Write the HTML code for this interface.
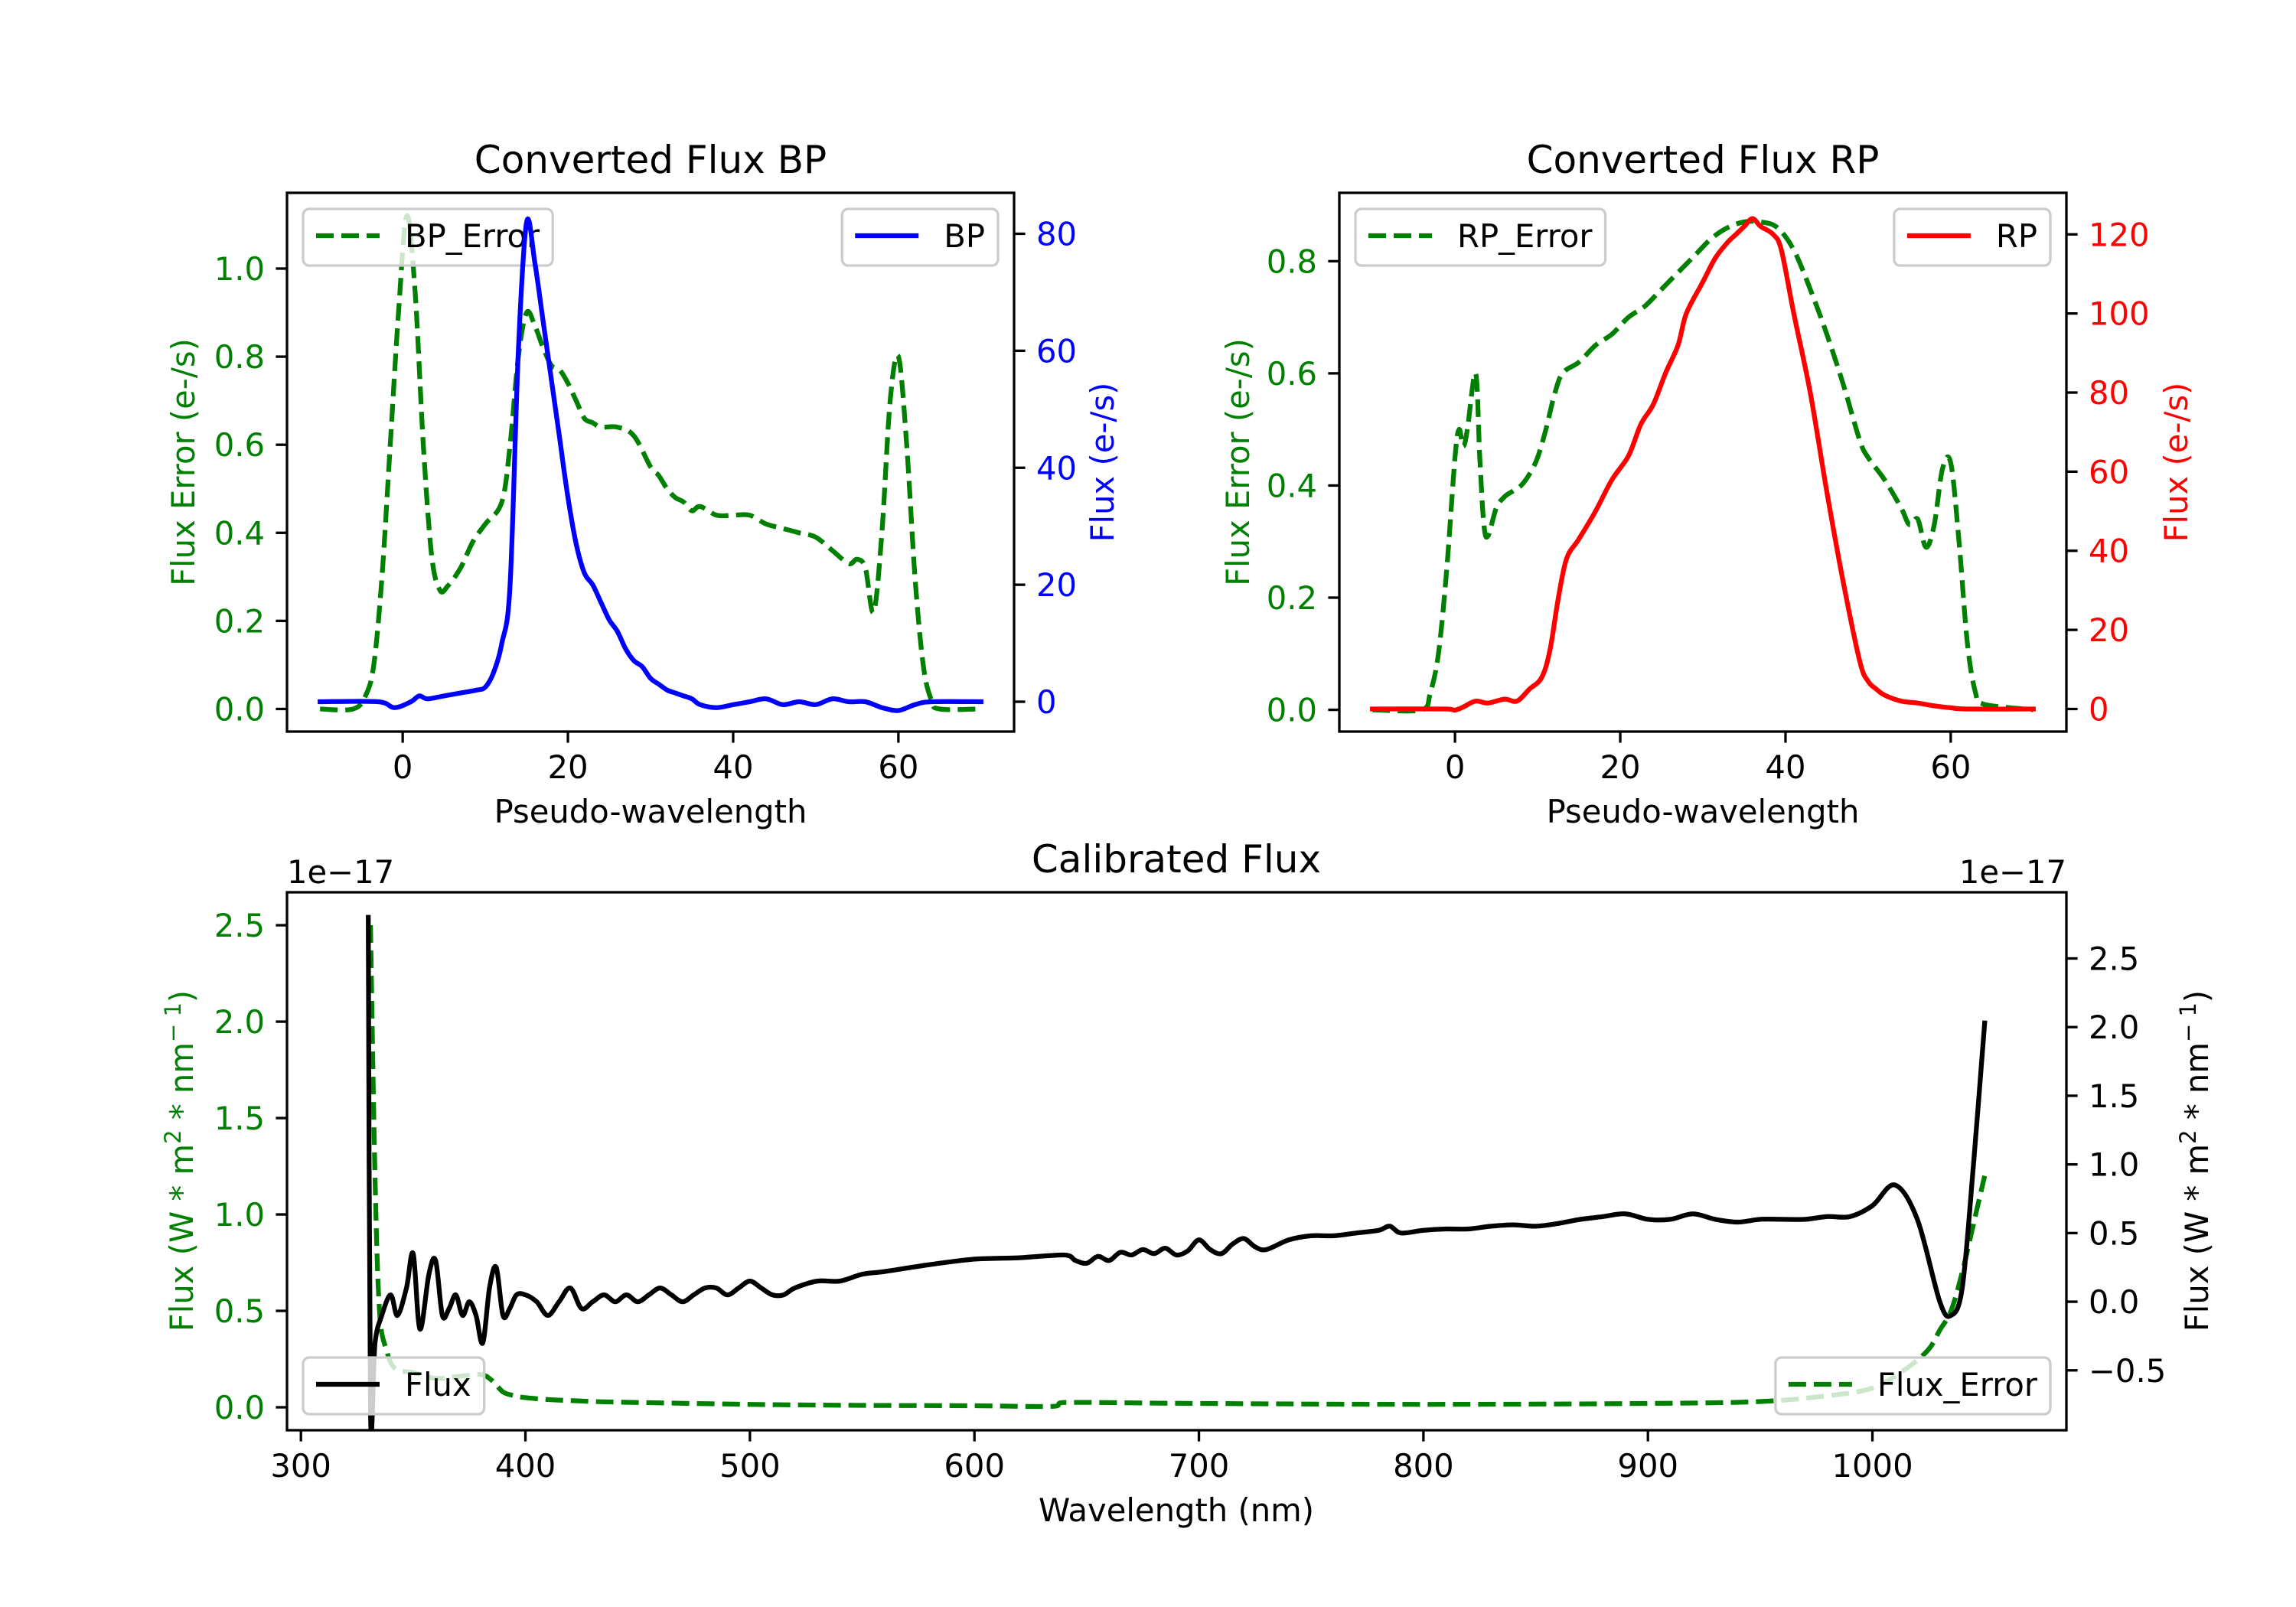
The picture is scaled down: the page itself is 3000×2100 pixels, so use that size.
<!DOCTYPE html>
<html><head><meta charset="utf-8"><title>Converted and Calibrated Flux</title>
<style>
html,body{margin:0;padding:0;background:#fff;}
svg{display:block;font-family:"DejaVu Sans","Liberation Sans",sans-serif;}
</style></head>
<body>
<svg id="fig" xmlns="http://www.w3.org/2000/svg" width="3000" height="2100" viewBox="0 0 3000 2100">
<rect width="3000" height="2100" fill="#fff"/>
</svg>
<script>
// ---------- data ----------
const BP_ERR_X=[-10,-6,-4.5,-3.5,-2.5,-1.5,-0.5,0.5,1.5,2.5,3.5,4.5,5.5,7,8.5,10,12,13,14,15,16,17,18,19,20,21,22,23,24,26,28,30,31,32,33,34,35,36,38,40,42,44,46,48,50,52,54,55,56,57,58,59,60,61,62,63,64,65,70];
const BP_ERR_Y=[0,0,0.03,0.1,0.3,0.6,0.9,1.12,0.95,0.6,0.35,0.27,0.28,0.32,0.38,0.42,0.47,0.6,0.8,0.9,0.87,0.82,0.78,0.77,0.74,0.7,0.66,0.65,0.64,0.64,0.62,0.55,0.53,0.5,0.48,0.47,0.45,0.46,0.44,0.44,0.44,0.42,0.41,0.4,0.39,0.36,0.33,0.34,0.32,0.22,0.4,0.7,0.8,0.6,0.3,0.1,0.02,0,0];
const BP_X=[-10,-3,-1,1,2,3,5,7,9,10,11,12,13,14,15,16,17,18,19,20,21,22,23,24,25,26,27,28,29,30,31,32,33,34,35,36,38,40,42,44,46,48,50,52,54,56,58,60,62,64,70];
const BP_Y=[0,0,-1,0,1,0.5,1,1.5,2,2.5,5,10,20,60,82,75,65,55,45,35,27,22,20,17,14,12,9,7,6,4,3,2,1.5,1,0.5,-0.5,-1,-0.5,0,0.5,-0.5,0,-0.5,0.5,0,0,-1,-1.5,-0.5,0,0];
const RP_ERR_X=[-10,-4,-3,-2,-1,0,0.5,1,1.5,2.5,3,3.5,4,5,6,7,8,9,10,11,12,13,15,17,19,21,23,25,27,29,31,33,35,37,39,41,43,45,47,49,50,52,54,55,56,57,58,59,60,61,62,63,64,70];
const RP_ERR_Y=[0,0,0.03,0.1,0.25,0.45,0.5,0.47,0.5,0.6,0.45,0.33,0.31,0.36,0.38,0.39,0.4,0.42,0.45,0.5,0.56,0.6,0.62,0.65,0.67,0.7,0.72,0.75,0.78,0.81,0.84,0.86,0.87,0.87,0.86,0.82,0.75,0.67,0.58,0.48,0.45,0.41,0.36,0.33,0.34,0.29,0.33,0.43,0.44,0.3,0.12,0.03,0.01,0];
const RP_X=[-10,-1,0,1,2.5,4,6,7.5,9,10.5,11.5,12.5,13.5,15,17,19,21,22.5,24,25.5,27,28,30,31.5,33,34,35,36,37,38.5,39.5,41,43,45,47,49,50,51,52,54,56,58,60,62,70];
const RP_Y=[0,0,-0.3,0.5,2,1.5,2.5,2,5,8,15,28,38,43,50,58,64,72,77,85,92,100,108,114,118,120,122,124,122,120,116,100,80,55,32,12,7,5,3.5,2,1.5,0.8,0.3,0,0];
const CAL_X=[330,331,333,336,340,343,347,350,353,357,360,363,366,369,372,375,378,381,384,387,390,393,396,400,405,410,415,420,425,430,435,440,445,450,455,460,465,470,475,480,485,490,495,500,505,510,515,520,530,540,550,560,580,600,620,640,645,650,655,660,665,670,675,680,685,690,695,700,705,710,715,720,725,730,740,750,760,770,780,785,790,800,810,820,830,840,850,860,870,880,890,900,910,920,930,940,950,960,970,980,990,1000,1010,1020,1030,1035,1040,1045,1050];
const CAL_Y=[2.8,-0.8,-0.3,-0.1,0.05,-0.1,0.1,0.35,-0.2,0.2,0.3,-0.1,-0.05,0.05,-0.1,0,-0.1,-0.3,0.1,0.25,-0.1,-0.05,0.05,0.05,0,-0.1,0,0.1,-0.05,0,0.05,0,0.05,0,0.05,0.1,0.05,0,0.05,0.1,0.1,0.05,0.1,0.15,0.1,0.05,0.05,0.1,0.15,0.15,0.2,0.22,0.27,0.31,0.32,0.34,0.3,0.28,0.33,0.3,0.36,0.34,0.38,0.35,0.39,0.34,0.37,0.45,0.38,0.35,0.42,0.46,0.4,0.38,0.45,0.48,0.48,0.5,0.52,0.55,0.5,0.52,0.53,0.53,0.55,0.56,0.55,0.57,0.6,0.62,0.64,0.6,0.6,0.64,0.6,0.58,0.6,0.6,0.6,0.62,0.62,0.7,0.85,0.6,0,-0.1,0.1,1.0,2.03];
const ERR_X=[331,333,335,338,342,350,360,370,380,385,390,395,400,410,420,430,450,500,550,600,635,640,700,800,900,950,980,1000,1015,1025,1030,1035,1040,1045,1050];
const ERR_Y=[2.5,1.2,0.5,0.3,0.2,0.18,0.15,0.16,0.17,0.14,0.08,0.06,0.05,0.04,0.035,0.03,0.025,0.015,0.01,0.008,0.005,0.025,0.02,0.015,0.02,0.03,0.06,0.1,0.2,0.3,0.4,0.5,0.7,0.95,1.2];
const BP_XTICKS=[0,20,40,60];
const BP_LTICKS=[0,0.2,0.4,0.6,0.8,1.0];
const BP_RTICKS=[0,20,40,60,80];
const RP_XTICKS=[0,20,40,60];
const RP_LTICKS=[0,0.2,0.4,0.6,0.8];
const RP_RTICKS=[0,20,40,60,80,100,120];
const CAL_XTICKS=[300,400,500,600,700,800,900,1000];
const CAL_LTICKS=[0,0.5,1.0,1.5,2.0,2.5];
const CAL_RTICKS=[-0.5,0,0.5,1.0,1.5,2.0,2.5];

// ---------- helpers ----------
const NS='http://www.w3.org/2000/svg';
const svg=document.getElementById('fig');
function mk(tag,attrs,parent){const e=document.createElementNS(NS,tag);for(const k in attrs)e.setAttribute(k,attrs[k]);(parent||svg).appendChild(e);return e;}
const FS=41.7, LW=6.25, DASH='23,10';
function scale(d0,d1,p0,p1){return v=>p0+(v-d0)*(p1-p0)/(d1-d0);}
function fmt(v,dec){let s=v.toFixed(dec);return s.replace('-','\u2212');}
function smoothPath(P){
  let d='M'+P[0][0].toFixed(1)+','+P[0][1].toFixed(1);
  for(let i=0;i<P.length-1;i++){
    const p0=P[Math.max(0,i-1)],p1=P[i],p2=P[i+1],p3=P[Math.min(P.length-1,i+2)];
    // monotone-ish: limit control y to segment range
    let c1x=p1[0]+(p2[0]-p0[0])/6,c1y=p1[1]+(p2[1]-p0[1])/6;
    let c2x=p2[0]-(p3[0]-p1[0])/6,c2y=p2[1]-(p3[1]-p1[1])/6;
    c1x=Math.min(Math.max(c1x,p1[0]),p2[0]);c2x=Math.min(Math.max(c2x,p1[0]),p2[0]);
    d+=' C'+c1x.toFixed(1)+','+c1y.toFixed(1)+' '+c2x.toFixed(1)+','+c2y.toFixed(1)+' '+p2[0].toFixed(1)+','+p2[1].toFixed(1);
  }
  return d;
}

function makeAxes(name,a){
  a.sx=scale(a.xmin,a.xmax,a.x0,a.x1);
  a.syl=scale(a.lmin,a.lmax,a.y1,a.y0);
  a.syr=scale(a.rmin,a.rmax,a.y1,a.y0);
  const g=mk('g',{});
  
  
  a.g=g;
  a.clip=name+'-clip';
  const cp=mk('clipPath',{id:a.clip},g);
  mk('rect',{x:a.x0,y:a.y0,width:a.x1-a.x0,height:a.y1-a.y0},cp);
  return a;
}
function line(a,xs,ys,side,color,dashed,name){
  const sy=side==='l'?a.syl:a.syr;
  const P=xs.map((x,i)=>[a.sx(x),sy(ys[i])]);
  const p=mk('path',{d:smoothPath(P),fill:'none',stroke:color,'stroke-width':LW,'stroke-linejoin':'round','stroke-linecap':dashed?'butt':'square','clip-path':'url(#'+a.clip+')'},a.g);
  if(dashed)p.setAttribute('stroke-dasharray',DASH);
  
  
}
function legend(a,label,color,dashed,corner,name){
  const g=mk('g',{},a.g);
  
  
  const t=mk('text',{'font-size':FS,fill:'#000'},g);
  t.textContent=label;
  const tw=t.getComputedTextLength();
  const w=133+tw+17, h=74;
  const bx=corner[1]==='l'?a.x0+21:a.x1-21-w;
  const by=corner[0]==='t'?a.y0+21:a.y1-21-h;
  const box=mk('rect',{x:bx,y:by,width:w,height:h,rx:8,fill:'#fff','fill-opacity':0.8,stroke:'#cccccc','stroke-width':3.3},g);
  g.insertBefore(box,t);
  const ln=mk('line',{x1:bx+17,x2:bx+100,y1:by+35,y2:by+35,stroke:color,'stroke-width':LW},g);
  if(dashed)ln.setAttribute('stroke-dasharray',DASH);
  g.insertBefore(ln,t);
  t.setAttribute('x',bx+133);t.setAttribute('y',by+50);
}
function frame(a,name){
  const r=mk('rect',{x:a.x0,y:a.y0,width:a.x1-a.x0,height:a.y1-a.y0,fill:'none',stroke:'#000','stroke-width':3.3},a.g);
  
  
}
function xticks(a,ticks,dec,name){
  const g=mk('g',{},a.g);
  
  
  ticks.forEach(v=>{const x=a.sx(v);
    mk('line',{x1:x,x2:x,y1:a.y1,y2:a.y1+14.6,stroke:'#000','stroke-width':3.3},g);
    const t=mk('text',{x:x,y:a.y1+61,'font-size':FS,'text-anchor':'middle',fill:'#000'},g);t.textContent=fmt(v,dec);});
}
function yticks(a,ticks,dec,side,color,name){
  const g=mk('g',{},a.g);
  
  
  const sy=side==='l'?a.syl:a.syr;
  ticks.forEach(v=>{const y=sy(v);
    if(side==='l'){
      mk('line',{x1:a.x0-14.6,x2:a.x0,y1:y,y2:y,stroke:'#000','stroke-width':3.3},g);
      const t=mk('text',{x:a.x0-29,y:y+15,'font-size':FS,'text-anchor':'end',fill:color},g);t.textContent=fmt(v,dec);
    }else{
      mk('line',{x1:a.x1,x2:a.x1+14.6,y1:y,y2:y,stroke:'#000','stroke-width':3.3},g);
      const t=mk('text',{x:a.x1+29,y:y+15,'font-size':FS,'text-anchor':'start',fill:color},g);t.textContent=fmt(v,dec);
    }});
}
function text(x,y,s,opts,name,parent){
  const t=mk('text',Object.assign({x:x,y:y,'font-size':FS,fill:'#000'},opts||{}),parent);
  t.textContent=s;
  
  
  return t;
}
function vlabel(cx,cy,s,color,name,parent){
  return text(cx,cy,s,{'text-anchor':'middle',fill:color,transform:'rotate(-90 '+cx+' '+cy+')'},name,parent);
}
function unitLabel(cx,cy,color,name,parent){
  const t=mk('text',{x:cx,y:cy,'font-size':FS,'text-anchor':'middle',fill:color,transform:'rotate(-90 '+cx+' '+cy+')'},parent);
  
  
  const parts=[['Flux (W * m',0],['2',1],[' * nm',0],['\u2212 1',1],[')',0]];
  parts.forEach(p=>{const s=mk('tspan',{},t);s.textContent=p[0];
    if(p[1]){s.setAttribute('font-size',29);s.setAttribute('dy',-16);}else if(s.previousSibling){s.setAttribute('dy',16);}});
  return t;
}

// ---------- BP ----------
const bp=makeAxes('bp-panel',{x0:375,x1:1325,y0:252,y1:956,xmin:-14,xmax:74,lmin:-0.0513,lmax:1.172,rmin:-5.1,rmax:87.0});
line(bp,BP_ERR_X,BP_ERR_Y,'l','#008000',true,'bp-error-line');
legend(bp,'BP_Error','#008000',true,'tl','bp-error-legend');
line(bp,BP_X,BP_Y,'r','#0000ff',false,'bp-flux-line');
legend(bp,'BP','#0000ff',false,'tr','bp-legend');
frame(bp,'bp-frame');
xticks(bp,BP_XTICKS,0,'bp-x-ticks');
yticks(bp,BP_LTICKS,1,'l','#008000','bp-left-ticks');
yticks(bp,BP_RTICKS,0,'r','#0000ff','bp-right-ticks');
text(850,226,'Converted Flux BP',{'font-size':50,'text-anchor':'middle'},'bp-title',bp.g);
text(850,1075,'Pseudo-wavelength',{'text-anchor':'middle'},'bp-x-axis-title',bp.g);
vlabel(254,604,'Flux Error (e-/s)','#008000','bp-left-axis-title',bp.g);
vlabel(1455,604,'Flux (e-/s)','#0000ff','bp-right-axis-title',bp.g);

// ---------- RP ----------
const rp=makeAxes('rp-panel',{x0:1750,x1:2700,y0:252,y1:956,xmin:-14,xmax:74,lmin:-0.0388,lmax:0.9219,rmin:-5.71,rmax:130.5});
line(rp,RP_ERR_X,RP_ERR_Y,'l','#008000',true,'rp-error-line');
legend(rp,'RP_Error','#008000',true,'tl','rp-error-legend');
line(rp,RP_X,RP_Y,'r','#ff0000',false,'rp-flux-line');
legend(rp,'RP','#ff0000',false,'tr','rp-legend');
frame(rp,'rp-frame');
xticks(rp,RP_XTICKS,0,'rp-x-ticks');
yticks(rp,RP_LTICKS,1,'l','#008000','rp-left-ticks');
yticks(rp,RP_RTICKS,0,'r','#ff0000','rp-right-ticks');
text(2225,226,'Converted Flux RP',{'font-size':50,'text-anchor':'middle'},'rp-title',rp.g);
text(2225,1075,'Pseudo-wavelength',{'text-anchor':'middle'},'rp-x-axis-title',rp.g);
vlabel(1632,604,'Flux Error (e-/s)','#008000','rp-left-axis-title',rp.g);
vlabel(2858,604,'Flux (e-/s)','#ff0000','rp-right-axis-title',rp.g);

// ---------- Calibrated ----------
const cal=makeAxes('calibrated-panel',{x0:375,x1:2700,y0:1166,y1:1869,xmin:293.8,xmax:1086.4,lmin:-0.119,lmax:2.671,rmin:-0.936,rmax:2.982});
line(cal,ERR_X,ERR_Y,'l','#008000',true,'flux-error-line');
line(cal,CAL_X,CAL_Y,'r','#000000',false,'flux-line');
legend(cal,'Flux','#000000',false,'bl','flux-legend');
legend(cal,'Flux_Error','#008000',true,'br','flux-error-legend');
frame(cal,'calibrated-frame');
xticks(cal,CAL_XTICKS,0,'calibrated-x-ticks');
yticks(cal,CAL_LTICKS,1,'l','#008000','calibrated-left-ticks');
yticks(cal,CAL_RTICKS,1,'r','#000000','calibrated-right-ticks');
text(1537,1140,'Calibrated Flux',{'font-size':50,'text-anchor':'middle'},'calibrated-title',cal.g);
text(1537,1988,'Wavelength (nm)',{'text-anchor':'middle'},'calibrated-x-axis-title',cal.g);
text(375,1154,'1e\u221217',{},'left-offset-text',cal.g);
text(2700,1154,'1e\u221217',{'text-anchor':'end'},'right-offset-text',cal.g);
unitLabel(252,1517,'#008000','calibrated-left-axis-title',cal.g);
unitLabel(2885,1517,'#000000','calibrated-right-axis-title',cal.g);
</script>
</body></html>
